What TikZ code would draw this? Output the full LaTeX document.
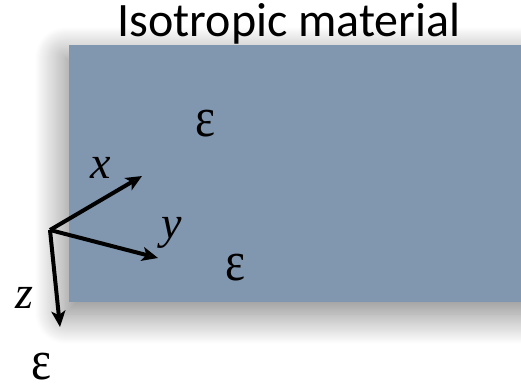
\documentclass[tikz,border=0pt]{standalone}
\usepackage{fontspec}
\setmainfont{Liberation Serif}
\newfontfamily\titlefont{Carlito}
\usetikzlibrary{arrows.meta,shadows.blur}
\newcommand{\epsglyph}{\scalebox{0.85}[1]{ε}}
\begin{document}
\begin{tikzpicture}[x=1pt,y=-1pt,
  axis/.style={line width=4pt,-{Stealth[length=16pt,width=14pt,inset=4pt]}},
  eps/.style={font=\fontsize{56}{56}\selectfont,anchor=base,inner sep=0pt},
  lab/.style={font=\fontsize{46}{46}\selectfont\itshape,anchor=base,inner sep=0pt}]
\useasboundingbox (0,0) rectangle (521,388);
\fill[color={rgb,255:red,129;green,150;blue,175},
  blur shadow={shadow xshift=-4pt, shadow yshift=-12pt, shadow blur radius=30pt, shadow opacity=50, shadow blur steps=30}]
  (69,45) rectangle (560,302);
\fill[white] (521,-10) rectangle (600,400);
\node[font=\titlefont\fontsize{48}{48}\selectfont] (title) at (289,24) {Isotropic material};
\node[eps] (e1) at (205,136) {\epsglyph};
\node[eps] (e2) at (235,280) {\epsglyph};
\node[eps] (e3) at (41,379) {\epsglyph};
\coordinate (o) at (50,230);
\coordinate (xe) at (142,176);
\coordinate (ye) at (158,258);
\coordinate (ze) at (60,327);
\draw[axis] (o) -- (xe);
\draw[axis] (o) -- (ye);
\draw[axis] (o) -- (ze);
\node[lab] (xl) at (101,178) {x};
\node[lab] (yl) at (172,238) {y};
\node[lab] (zl) at (24,308) {z};
\end{tikzpicture}
\end{document}
